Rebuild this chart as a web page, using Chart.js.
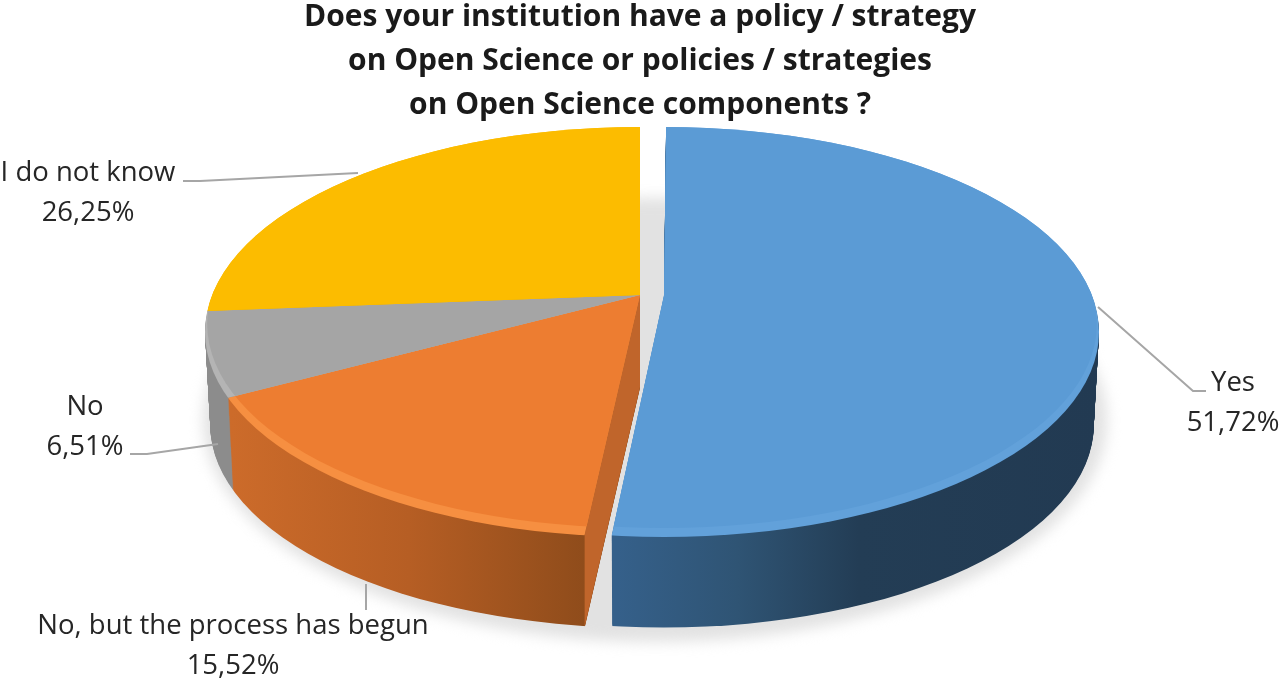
<!DOCTYPE html>
<html>
<head>
<meta charset="utf-8">
<title>Open Science policy</title>
<script src="https://cdn.jsdelivr.net/npm/chart.js@4"></script>
<style>
  html, body { margin: 0; padding: 0; background: #fff; overflow: hidden; }
  canvas { display: block; }
</style>
</head>
<body>
<canvas id="pie" width="1280" height="679"></canvas>
<script>
// ==================== DATA ====================
const categories = ['Yes', 'No, but the process has begun', 'No', 'I do not know'];
const shares = [51.72, 15.52, 6.51, 26.25];
const titleLines = [
    'Does your institution have a policy / strategy',
    'on Open Science or policies / strategies',
    'on Open Science components ?'
];

// ==================== COLOURS ====================
const faceColors = ['#5b9bd5', '#ed7d31', '#a5a5a5', '#fcbc00'];
const rimColors = ['#62a1da', '#f68f41', '#b4b4b4', '#fcbc00'];
const wallStops = [
    [[0, '#35608a'], [0.25, '#2f5474'], [0.5, '#233d55'], [1, '#223a52']],
    [[0, '#cc6b2a'], [0.5, '#b65e24'], [1, '#8f4c1b']],
    [[0, '#8c8c8c'], [1, '#8c8c8c']],
    [[0, '#a88000'], [1, '#a88000']]
];
const wallRange = [[617, 1100], [232, 585], [207, 240], [207, 640]];
const cutFaceColor = '#c0652b';

// ==================== LAYOUT ====================
const explode = [96, 0, 0, 0];      // the arc element moves a slice by offset / 4
const pieCentre = { x: 640, y: 332, rx: 435, ry: 205 };  // outline of the tilted top
const apex = { x: 640, y: 295 };    // perspective puts the tip above the outline centre
const tilt = 0.47;
const depth = 93;
const labelFont = '27.5px "Open Sans"';
const labelPlaces = [
    { x: 1233, y: 383, line: [[1098, 307], [1193, 391], [1206, 391]] },
    { x: 233, y: 626, line: [[366, 584], [366, 610]] },
    { x: 85, y: 407, line: [[130, 454], [147, 454], [218, 444]] },
    { x: 88, y: 173, line: [[183, 181], [200, 181], [358, 173]] }
];

// Same arc, other fill colour, so the library still does the drawing
function recolored(arc, fill) {
    const copy = Object.create(arc);
    copy.options = Object.assign({}, arc.options, { backgroundColor: fill });
    return copy;
}

// Paint one slice squashed into the tilted plane, cut by the elliptical outline
function paintSlice(ctx, arc, index, fill, dy, outlines) {
    const shift = explode[index] / 4;
    ctx.save();
    ctx.translate(0, dy);
    outlines.forEach(o => {
        ctx.beginPath();
        ctx.ellipse(pieCentre.x + shift, pieCentre.y + o.dy, pieCentre.rx * o.k, pieCentre.ry * o.k, 0, 0, Math.PI * 2);
        ctx.clip();
    });
    ctx.translate(apex.x, apex.y);
    ctx.scale(1, tilt);
    ctx.translate(-arc.x, -arc.y);
    recolored(arc, fill).draw(ctx);
    ctx.restore();
}

function wallFill(ctx, arc, index) {
    const shift = explode[index] / 4;
    const [x0, x1] = wallRange[index];
    const offsetX = arc.x - apex.x - shift;
    const grad = ctx.createLinearGradient(x0 + offsetX, 0, x1 + offsetX, 0);
    wallStops[index].forEach(([pos, color]) => grad.addColorStop(pos, color));
    return grad;
}

// Soft shadow the pie throws on the floor
function drawShadow(ctx) {
    ctx.save();
    ctx.filter = 'blur(7px)';
    ctx.fillStyle = '#e2e2e2';
    ctx.beginPath();
    ctx.ellipse(655, 420, 452, 222, 0, 0, Math.PI * 2);
    ctx.fill();
    ctx.restore();
}

function drawWalls(ctx, arcs) {
    [3, 2, 1, 0].forEach(i => {
        const fill = wallFill(ctx, arcs[i], i);
        for (let d = depth; d >= 1; d--) {
            paintSlice(ctx, arcs[i], i, fill, d, [{ dy: 0, k: 1 - 0.012 * d / depth }]);
        }
        if (i === 1) drawCutFace(ctx, arcs[i]);
    });
}

// The flat cut side of the orange slice, from the end angle the library worked out
function drawCutFace(ctx, arc) {
    const ang = arc.startAngle;
    const reach = (pieCentre.y + pieCentre.ry - apex.y - 2) / (Math.sin(ang) * tilt);
    const ex = apex.x + Math.cos(ang) * reach;
    const ey = apex.y + Math.sin(ang) * reach * tilt;
    ctx.fillStyle = cutFaceColor;
    ctx.beginPath();
    ctx.moveTo(apex.x, apex.y);
    ctx.lineTo(ex, ey);
    ctx.lineTo(ex, ey + depth - 1);
    ctx.lineTo(apex.x, apex.y + depth - 1);
    ctx.closePath();
    ctx.fill();
}

function drawFaces(ctx, arcs) {
    arcs.forEach((arc, i) => {
        paintSlice(ctx, arc, i, rimColors[i], 0, [{ dy: 0, k: 1 }]);
        paintSlice(ctx, arc, i, faceColors[i], 0, [{ dy: 0, k: 1 }, { dy: -8, k: 0.995 }]);
    });
}

function drawLabels(ctx) {
    ctx.save();
    labelPlaces.forEach((place, i) => {
        ctx.strokeStyle = '#a6a6a6';
        ctx.lineWidth = 2;
        ctx.beginPath();
        place.line.forEach(([x, y], n) => n ? ctx.lineTo(x, y) : ctx.moveTo(x, y));
        ctx.stroke();

        ctx.fillStyle = '#262626';
        ctx.font = labelFont;
        ctx.textAlign = 'center';
        ctx.textBaseline = 'middle';
        ctx.fillText(categories[i], place.x, place.y);
        ctx.fillText(shares[i].toFixed(2).replace('.', ',') + '%', place.x, place.y + 40);
    });
    ctx.restore();
}

const pie3d = {
    id: 'pie3d',
    // the flat pie is replaced by the extruded one below
    beforeDatasetDraw() {
        return false;
    },
    afterDatasetsDraw(chart) {
        const ctx = chart.ctx;
        const arcs = chart.getDatasetMeta(0).data;
        drawShadow(ctx);
        drawWalls(ctx, arcs);
        drawFaces(ctx, arcs);
        drawLabels(ctx);
    }
};

new Chart(document.getElementById('pie'), {
    type: 'pie',
    data: {
        labels: categories,
        datasets: [{
            data: shares,
            backgroundColor: faceColors,
            borderWidth: 0,
            offset: explode,
            radius: 620,
            clip: false
        }]
    },
    options: {
        responsive: false,
        animation: false,
        layout: { padding: 0 },
        plugins: {
            legend: { display: false },
            tooltip: { enabled: false },
            title: {
                display: true,
                text: titleLines,
                color: '#1a1a1a',
                font: { family: '"Open Sans"', size: 30, weight: 'bold', lineHeight: 1.47 },
                padding: { top: -5, bottom: 0 }
            }
        }
    },
    plugins: [pie3d]
});
</script>
</body>
</html>
